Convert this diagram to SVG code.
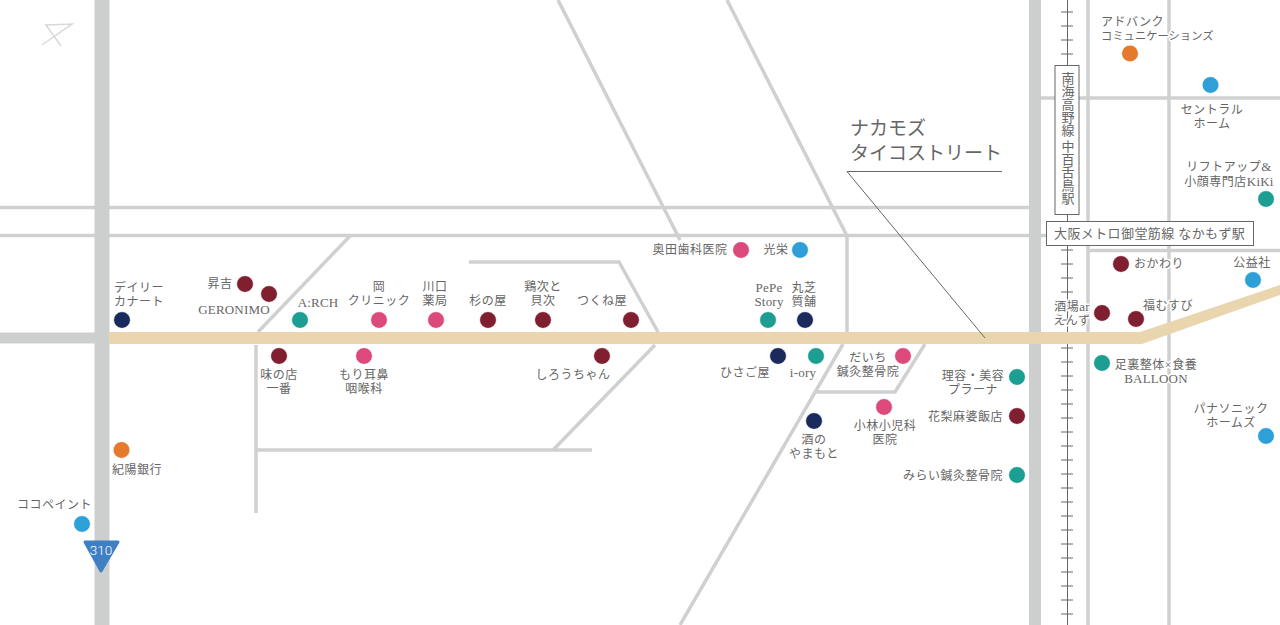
<svg xmlns="http://www.w3.org/2000/svg" width="1280" height="625" viewBox="0 0 1280 625">
<style>
text{font-family:"Liberation Serif","Noto Sans CJK JP",serif;font-size:12px;letter-spacing:.5px;fill:#666;stroke:#fff;stroke-width:3px;paint-order:stroke;stroke-linejoin:round}
.m{text-anchor:middle}.e{text-anchor:end}
text.l,tspan.l{font-size:13px;letter-spacing:.2px}
.r{fill:none;stroke:#cfd1d0;stroke-width:3.500}
.maroon{fill:#7f1f2f}.pink{fill:#dc4a7c}.teal{fill:#1c9e93}.navy{fill:#1b2a5c}.orange{fill:#e5792c}.blue{fill:#2f9fd8}
.b{fill:#fff;stroke:#666;stroke-width:1}
circle{stroke:#fff;stroke-width:.5}
</style>
<rect width="1280" height="625" fill="#fff"/>
<g id="roads">
<path class="r" d="M0 207.500H1029M0 235.500H1046M1041 98H1280M1088 250.500H1280M1088 0V625M1169 0V625"/>
<path class="r" d="M558 0L680 240M727 0L847 236V332M843 344L680 625M925 344L895 392H815"/>
<path class="r" d="M350 236L258 332M256 345V513M256 450H592M553 450L655 345M469 262H619L658 332"/>
<path d="M0 338H96" fill="none" stroke="#cdcfce" stroke-width="11"/>
<path d="M102 0V625" fill="none" stroke="#cdcfce" stroke-width="15"/>
<path d="M1035 0V625" fill="none" stroke="#cdcfce" stroke-width="12"/>
<path id="railway" fill="none" stroke="#666" stroke-width="1" d="M1067.500 0V625M1061 12H1073M1061 26H1073M1061 40H1073M1061 54H1073M1061 250H1073M1061 264H1073M1061 278H1073M1061 292H1073M1061 306H1073M1061 320H1073M1061 334H1073M1061 348H1073M1061 362H1073M1061 376H1073M1061 390H1073M1061 404H1073M1061 418H1073M1061 432H1073M1061 446H1073M1061 460H1073M1061 474H1073M1061 488H1073M1061 502H1073M1061 516H1073M1061 530H1073M1061 544H1073M1061 558H1073M1061 572H1073M1061 586H1073M1061 600H1073M1061 614H1073"/>
<path id="main-street" d="M109 332H1140L1280 285V295L1142 344H109Z" fill="#e9d5ae"/>
<path id="leader" d="M1002 171.500H847L985 338" fill="none" stroke="#666" stroke-width="1"/>
</g>
<path id="north" d="M42 45L72 24L46 25L61 46" fill="none" stroke="#d8d8d8" stroke-width="1.500"/>
<g id="title"><text x="850" y="135" style="font-size:19px;letter-spacing:0">ナカモズ</text><text x="850" y="160" style="font-size:19px;letter-spacing:0">タイコストリート</text></g>
<g id="route310"><path d="M85 542H118L101 571Z" fill="#3f7fc4" stroke="#3f7fc4" stroke-width="3" stroke-linejoin="round"/><text x="101" y="554.500" class="m" style="font-family:Roboto,sans-serif;font-size:13.500px;font-weight:300;fill:#fff;stroke:none;letter-spacing:0">310</text></g>
<g id="station-nankai"><rect class="b" x="1055" y="65.500" width="24" height="149"/><text x="1067" y="71.500" style="font-size:13px;letter-spacing:0;writing-mode:vertical-rl;stroke:none">南海高野線 中百舌鳥駅</text></g>
<g id="station-metro"><rect class="b" x="1046.500" y="221.500" width="207" height="24"/><text x="1054" y="238" style="font-size:13px;letter-spacing:.4px;stroke:none">大阪メトロ御堂筋線 なかもず駅</text></g>

<g id="n1"><circle class="navy" cx="122" cy="320" r="8.300"/><text x="139" y="292" class="m">デイリー</text><text x="139" y="306" class="m">カナート</text></g>
<g id="n2"><circle class="maroon" cx="245" cy="284" r="8.300"/><text x="220" y="288" class="m">昇吉</text></g>
<g id="n3"><circle class="maroon" cx="269" cy="294" r="8.300"/><text x="234" y="314" class="m l">GERONIMO</text></g>
<g id="n4"><circle class="teal" cx="300" cy="320" r="8.300"/><text x="318" y="307" class="m l">A:RCH</text></g>
<g id="n5"><circle class="pink" cx="379" cy="320" r="8.300"/><text x="379" y="291" class="m">岡</text><text x="379" y="305" class="m">クリニック</text></g>
<g id="n6"><circle class="pink" cx="436" cy="320" r="8.300"/><text x="435" y="291" class="m">川口</text><text x="435" y="305" class="m">薬局</text></g>
<g id="n7"><circle class="maroon" cx="488" cy="320" r="8.300"/><text x="488" y="305" class="m">杉の屋</text></g>
<g id="n8"><circle class="maroon" cx="543" cy="320" r="8.300"/><text x="543" y="291" class="m">鶏次と</text><text x="543" y="305" class="m">貝次</text></g>
<g id="n9"><circle class="maroon" cx="631" cy="320" r="8.300"/><text x="602" y="305" class="m">つくね屋</text></g>
<g id="n10"><circle class="maroon" cx="279" cy="356" r="8.300"/><text x="279" y="379" class="m">味の店</text><text x="279" y="393" class="m">一番</text></g>
<g id="n11"><circle class="pink" cx="364" cy="356" r="8.300"/><text x="364" y="379" class="m">もり耳鼻</text><text x="364" y="393" class="m">咽喉科</text></g>
<g id="n12"><circle class="maroon" cx="602" cy="356" r="8.300"/><text x="573" y="379" class="m">しろうちゃん</text></g>
<g id="n13"><circle class="pink" cx="741" cy="250" r="8.300"/><text x="690" y="254" class="m">奥田歯科医院</text></g>
<g id="n14"><circle class="blue" cx="800" cy="250" r="8.300"/><text x="776" y="254" class="m">光栄</text></g>
<g id="n15"><circle class="teal" cx="768" cy="320" r="8.300"/><text x="769" y="292" class="m l">PePe</text><text x="769" y="306" class="m l">Story</text></g>
<g id="n16"><circle class="navy" cx="805" cy="320" r="8.300"/><text x="804" y="292" class="m">丸芝</text><text x="804" y="306" class="m">質舗</text></g>
<g id="n17"><circle class="navy" cx="778" cy="356" r="8.300"/><text x="745" y="377" class="m">ひさご屋</text></g>
<g id="n18"><circle class="teal" cx="816" cy="356" r="8.300"/><text x="803" y="377" class="m l">i-ory</text></g>
<g id="n19"><circle class="pink" cx="903" cy="356" r="8.300"/><text x="868" y="362" class="m">だいち</text><text x="868" y="376" class="m">鍼灸整骨院</text></g>
<g id="n20"><circle class="teal" cx="1017" cy="377" r="8.300"/><text x="973" y="380" class="m">理容・美容</text><text x="973" y="394" class="m">プラーナ</text></g>
<g id="n21"><circle class="maroon" cx="1017" cy="416" r="8.300"/><text x="1003" y="421" class="e">花梨麻婆飯店</text></g>
<g id="n22"><circle class="pink" cx="884" cy="407" r="8.300"/><text x="885" y="430" class="m">小林小児科</text><text x="885" y="444" class="m">医院</text></g>
<g id="n23"><circle class="navy" cx="814" cy="421" r="8.300"/><text x="814" y="444" class="m">酒の</text><text x="814" y="458" class="m">やまもと</text></g>
<g id="n24"><circle class="teal" cx="1017" cy="475" r="8.300"/><text x="1003" y="480" class="e">みらい鍼灸整骨院</text></g>
<g id="n25"><circle class="orange" cx="1130" cy="53.500" r="8.300"/><text x="1101" y="26" style="letter-spacing:.5px">アドバンク</text><text x="1101" y="40" style="font-size:11.300px;letter-spacing:0">コミュニケーションズ</text></g>
<g id="n26"><circle class="blue" cx="1210.500" cy="85" r="8.300"/><text x="1212" y="114" class="m">セントラル</text><text x="1212" y="128" class="m">ホーム</text></g>
<g id="n27"><circle class="teal" cx="1266" cy="199" r="8.300"/><text x="1229" y="171" class="m">リフトアップ<tspan class="l">&amp;</tspan></text><text x="1229" y="186" class="m">小顔専門店<tspan class="l">KiKi</tspan></text></g>
<g id="n28"><circle class="maroon" cx="1121" cy="264" r="8.300"/><text x="1134" y="268">おかわり</text></g>
<g id="n29"><circle class="blue" cx="1253" cy="280" r="8.300"/><text x="1252" y="267" class="m">公益社</text></g>
<g id="n30"><circle class="maroon" cx="1136" cy="319" r="8.300"/><text x="1168" y="310" class="m">福むすび</text></g>
<g id="n31"><circle class="maroon" cx="1102" cy="313" r="8.300"/><text x="1072" y="311" class="m">酒場<tspan class="l">ar</tspan></text><text x="1072" y="325" class="m">えんず</text></g>
<g id="n32"><circle class="teal" cx="1102" cy="363" r="8.300"/><text x="1156" y="369" class="m">足裏整体×食養</text><text x="1156" y="383" class="m l">BALLOON</text></g>
<g id="n33"><circle class="blue" cx="1266" cy="436" r="8.300"/><text x="1231" y="413" class="m">パナソニック</text><text x="1231" y="427" class="m">ホームズ</text></g>
<g id="n34"><circle class="orange" cx="121.500" cy="450" r="8.300"/><text x="112" y="474">紀陽銀行</text></g>
<g id="n35"><circle class="blue" cx="82" cy="524" r="8.300"/><text x="17" y="509">ココペイント</text></g>
</svg>
